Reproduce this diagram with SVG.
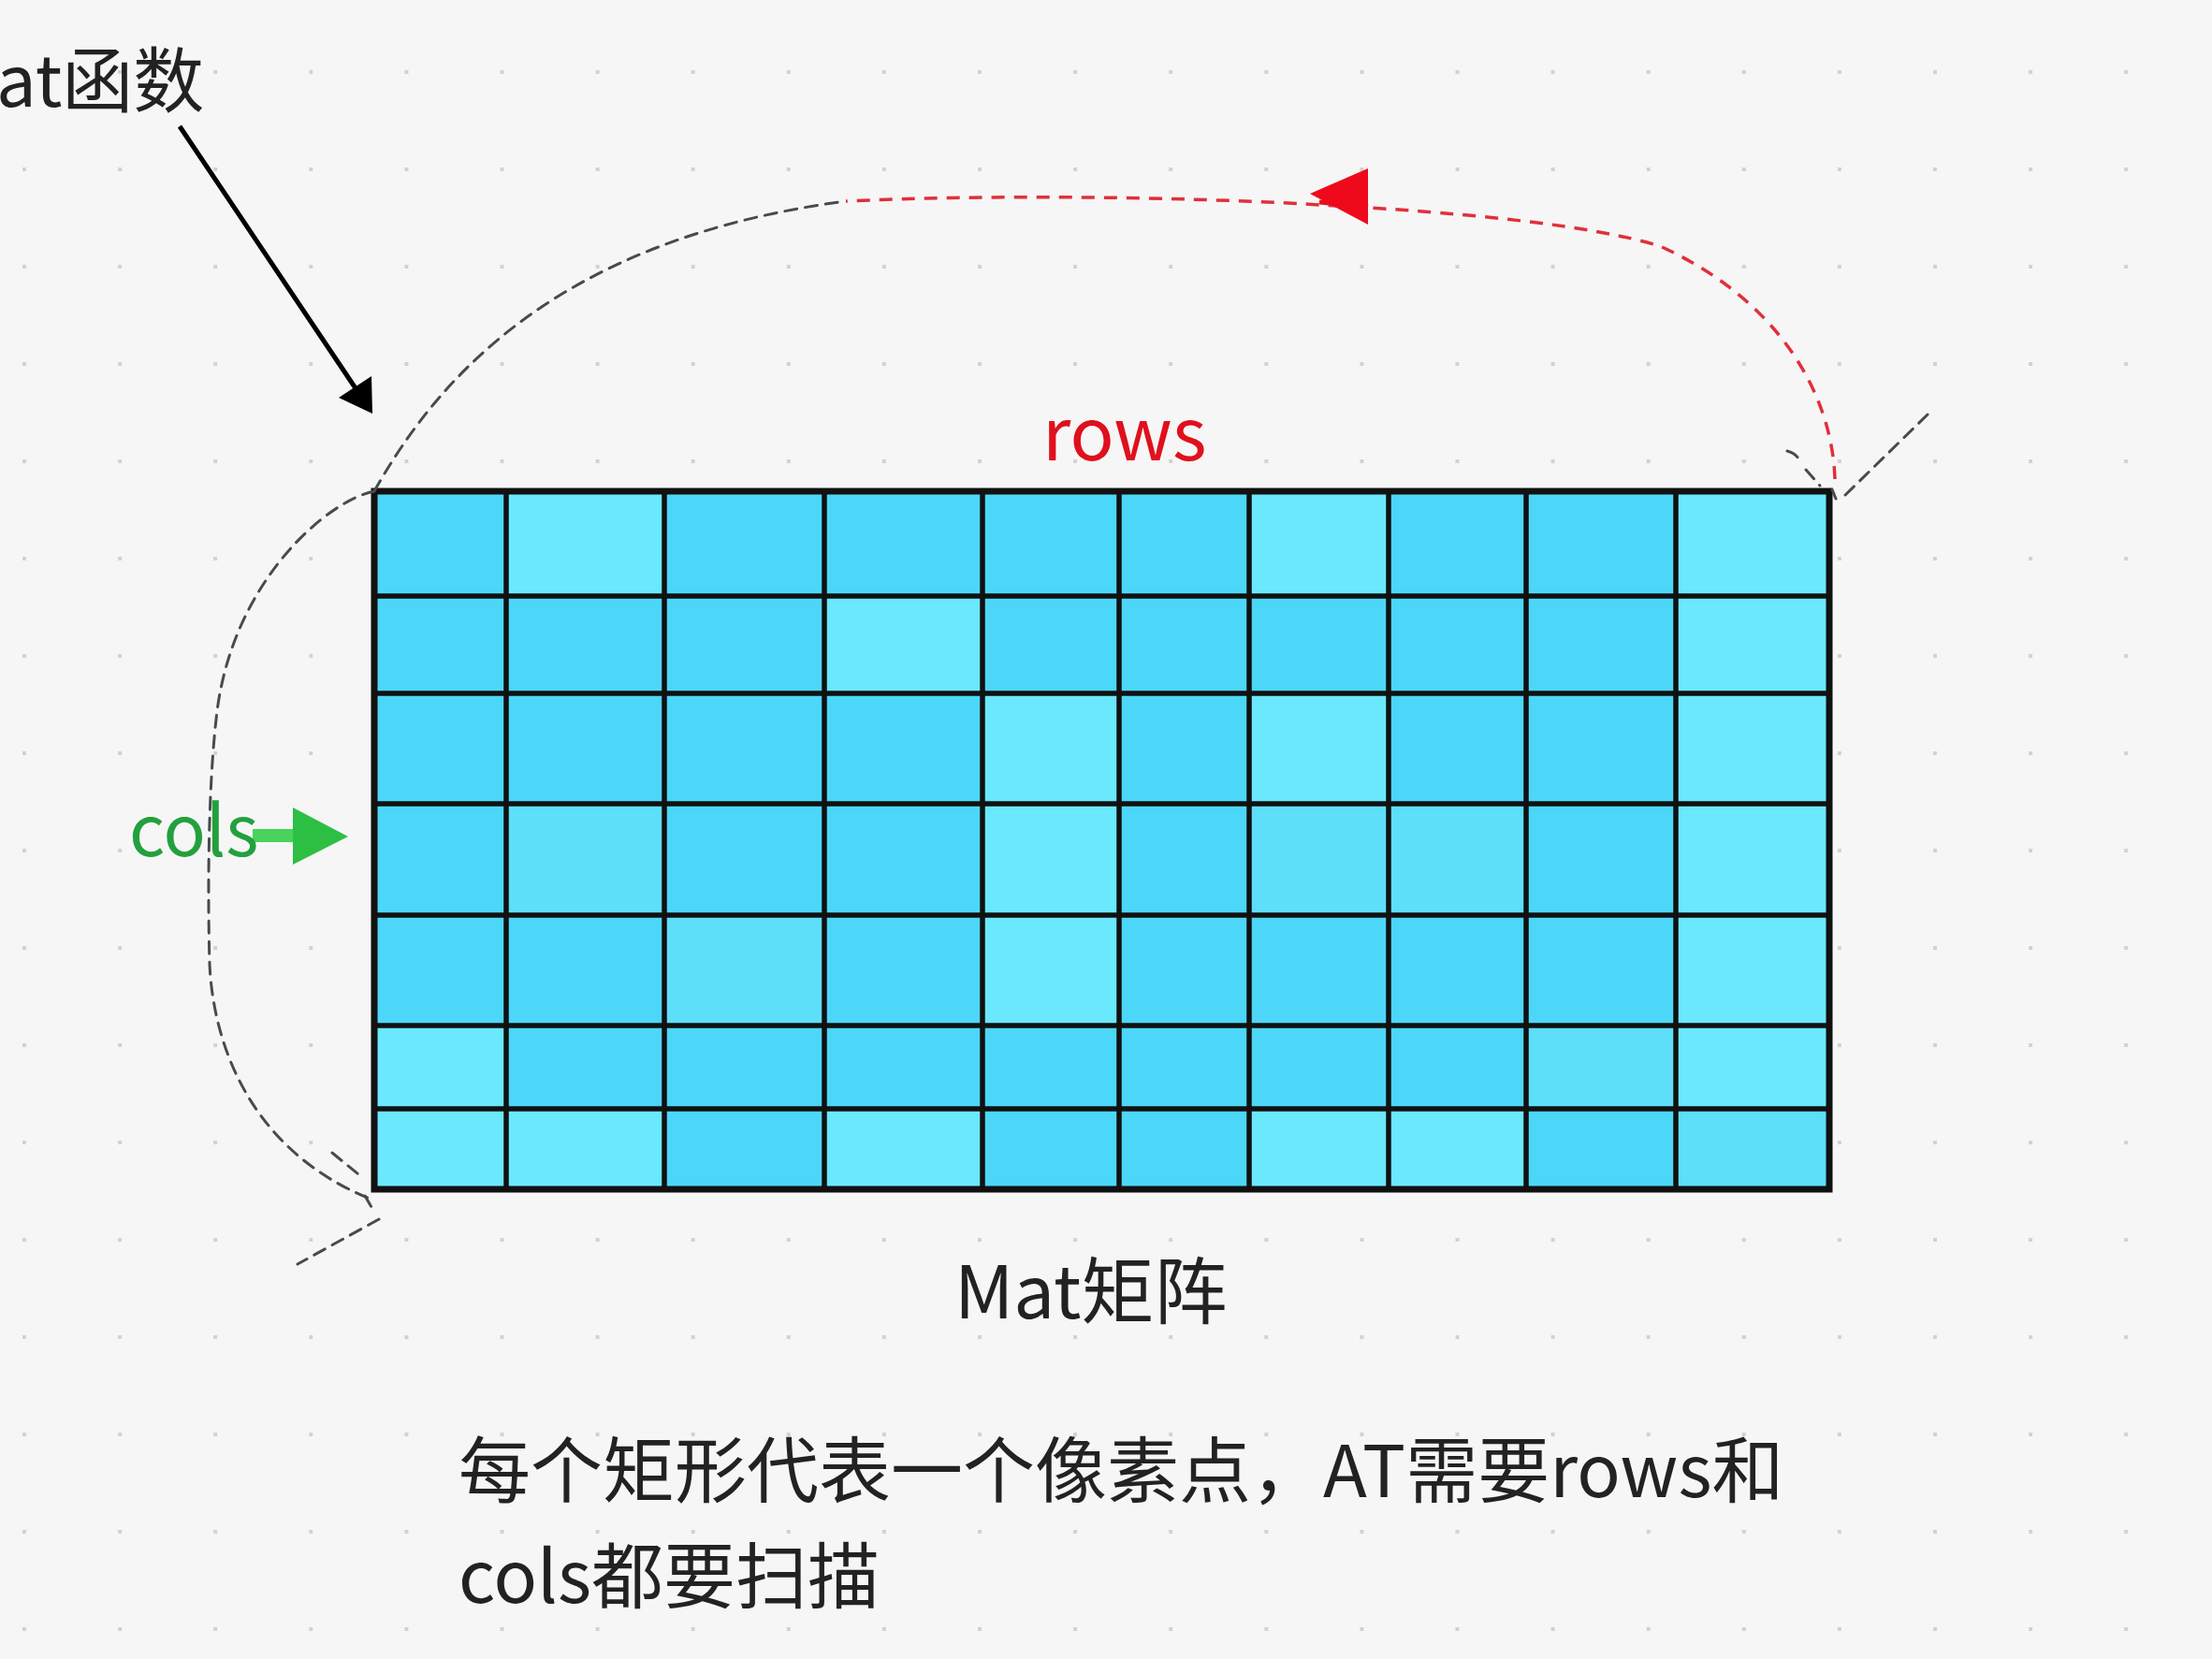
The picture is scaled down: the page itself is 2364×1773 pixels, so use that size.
<svg xmlns="http://www.w3.org/2000/svg" width="2364" height="1773" viewBox="0 0 2364 1773">
<style>
.lbl{font-family:"Noto Sans CJK SC","Noto Sans",sans-serif;fill:#222}
.a{fill:#4cd7f8}.b{fill:#5ddffa}.c{fill:#6ae8fd}
.gl{stroke:#111;stroke-width:5.5;fill:none}
.dk{fill:none;stroke:#4a4a4a;stroke-width:3;stroke-dasharray:13 9;stroke-linecap:round;stroke-linejoin:round}
.rd{fill:none;stroke:#e0303a;stroke-width:3.5;stroke-dasharray:14 10;stroke-linejoin:round}
</style>
<defs>
<pattern id="dots" patternUnits="userSpaceOnUse" x="24" y="75" width="102.1" height="104">
<rect x="0" y="0" width="4" height="4" fill="#d2d2d2"/>
</pattern>
</defs>
<rect width="2364" height="1773" fill="#f6f6f6"/>
<rect width="2364" height="1773" fill="url(#dots)"/>

<g id="matrix">
<!-- row 0 -->
<rect class="a" x="400" y="525" width="141" height="112"/><rect class="c" x="541" y="525" width="169" height="112"/><rect class="a" x="710" y="525" width="171" height="112"/><rect class="a" x="881" y="525" width="169" height="112"/><rect class="a" x="1050" y="525" width="146" height="112"/><rect class="a" x="1196" y="525" width="139" height="112"/><rect class="c" x="1335" y="525" width="149" height="112"/><rect class="a" x="1484" y="525" width="147" height="112"/><rect class="a" x="1631" y="525" width="160" height="112"/><rect class="c" x="1791" y="525" width="164" height="112"/>
<!-- row 1 -->
<rect class="a" x="400" y="637" width="141" height="104"/><rect class="a" x="541" y="637" width="169" height="104"/><rect class="a" x="710" y="637" width="171" height="104"/><rect class="c" x="881" y="637" width="169" height="104"/><rect class="a" x="1050" y="637" width="146" height="104"/><rect class="a" x="1196" y="637" width="139" height="104"/><rect class="a" x="1335" y="637" width="149" height="104"/><rect class="a" x="1484" y="637" width="147" height="104"/><rect class="a" x="1631" y="637" width="160" height="104"/><rect class="c" x="1791" y="637" width="164" height="104"/>
<!-- row 2 -->
<rect class="a" x="400" y="741" width="141" height="118"/><rect class="a" x="541" y="741" width="169" height="118"/><rect class="a" x="710" y="741" width="171" height="118"/><rect class="a" x="881" y="741" width="169" height="118"/><rect class="c" x="1050" y="741" width="146" height="118"/><rect class="a" x="1196" y="741" width="139" height="118"/><rect class="c" x="1335" y="741" width="149" height="118"/><rect class="a" x="1484" y="741" width="147" height="118"/><rect class="a" x="1631" y="741" width="160" height="118"/><rect class="c" x="1791" y="741" width="164" height="118"/>
<!-- row 3 -->
<rect class="a" x="400" y="859" width="141" height="119"/><rect class="b" x="541" y="859" width="169" height="119"/><rect class="a" x="710" y="859" width="171" height="119"/><rect class="a" x="881" y="859" width="169" height="119"/><rect class="c" x="1050" y="859" width="146" height="119"/><rect class="a" x="1196" y="859" width="139" height="119"/><rect class="b" x="1335" y="859" width="149" height="119"/><rect class="b" x="1484" y="859" width="147" height="119"/><rect class="a" x="1631" y="859" width="160" height="119"/><rect class="c" x="1791" y="859" width="164" height="119"/>
<!-- row 4 -->
<rect class="a" x="400" y="978" width="141" height="118"/><rect class="a" x="541" y="978" width="169" height="118"/><rect class="b" x="710" y="978" width="171" height="118"/><rect class="a" x="881" y="978" width="169" height="118"/><rect class="c" x="1050" y="978" width="146" height="118"/><rect class="a" x="1196" y="978" width="139" height="118"/><rect class="a" x="1335" y="978" width="149" height="118"/><rect class="a" x="1484" y="978" width="147" height="118"/><rect class="a" x="1631" y="978" width="160" height="118"/><rect class="c" x="1791" y="978" width="164" height="118"/>
<!-- row 5 -->
<rect class="c" x="400" y="1096" width="141" height="89"/><rect class="a" x="541" y="1096" width="169" height="89"/><rect class="a" x="710" y="1096" width="171" height="89"/><rect class="a" x="881" y="1096" width="169" height="89"/><rect class="a" x="1050" y="1096" width="146" height="89"/><rect class="a" x="1196" y="1096" width="139" height="89"/><rect class="a" x="1335" y="1096" width="149" height="89"/><rect class="a" x="1484" y="1096" width="147" height="89"/><rect class="b" x="1631" y="1096" width="160" height="89"/><rect class="c" x="1791" y="1096" width="164" height="89"/>
<!-- row 6 -->
<rect class="c" x="400" y="1185" width="141" height="86"/><rect class="c" x="541" y="1185" width="169" height="86"/><rect class="a" x="710" y="1185" width="171" height="86"/><rect class="c" x="881" y="1185" width="169" height="86"/><rect class="a" x="1050" y="1185" width="146" height="86"/><rect class="a" x="1196" y="1185" width="139" height="86"/><rect class="c" x="1335" y="1185" width="149" height="86"/><rect class="c" x="1484" y="1185" width="147" height="86"/><rect class="a" x="1631" y="1185" width="160" height="86"/><rect class="b" x="1791" y="1185" width="164" height="86"/>
<path class="gl" d="M541,525V1271M710,525V1271M881,525V1271M1050,525V1271M1196,525V1271M1335,525V1271M1484,525V1271M1631,525V1271M1791,525V1271M400,637H1955M400,741H1955M400,859H1955M400,978H1955M400,1096H1955M400,1185H1955"/>
<rect x="400" y="525" width="1555" height="746" fill="none" stroke="#111" stroke-width="7"/>
</g>

<g id="connectors">
<path class="dk" d="M400,525 C470,400 600,255 904,215"/>
<path class="dk" d="M400,525 C350,535 250,620 232,760 C222,840 222,960 224,1030 C228,1120 270,1230 395,1281"/>
<path class="dk" d="M355,1232 L383,1255 M390,1278 L397,1290 M405,1303 L318,1351"/>
<path class="dk" d="M1910,482 Q1918,484 1922,490 M1930,502 L1945,519 M1958,523 L1962,533 M2060,443 L1968,533"/>
<path class="rd" d="M1961,512 C1958,420 1900,320 1774,263 C1700,240 1560,228 1463,222 L1394,218 C1250,210 1050,208 904,215"/>
<line x1="1410" y1="216" x2="1462" y2="221" stroke="#e8101e" stroke-width="5"/>
<polygon points="1400,207 1462,180 1462,240" fill="#ee0a1a"/>
<line x1="192" y1="135" x2="380" y2="415" stroke="#000" stroke-width="5"/>
<polygon points="398,442 362,425 397,402" fill="#000"/>
<line x1="270" y1="893" x2="316" y2="893" stroke="#47d35c" stroke-width="14"/>
<polygon points="372,894 313,863 313,924" fill="#2cbf44"/>
</g>

<g id="label-at"><text class="lbl" x="-4" y="114" font-size="76">at函数</text></g>
<g id="label-rows"><text class="lbl" x="1114" y="492" font-size="78" style="fill:#e0101e">rows</text></g>
<g id="label-cols"><text class="lbl" x="138" y="915" font-size="75" style="fill:#23a03e">cols</text></g>
<g id="label-mat"><text class="lbl" x="1020" y="1409" font-size="78">Mat矩阵</text></g>
<g id="caption">
<text class="lbl" x="490" y="1600" font-size="77">每个矩形代表一个像素点，AT需要rows和</text>
<text class="lbl" x="490" y="1713" font-size="77">cols都要扫描</text>
</g>
</svg>
